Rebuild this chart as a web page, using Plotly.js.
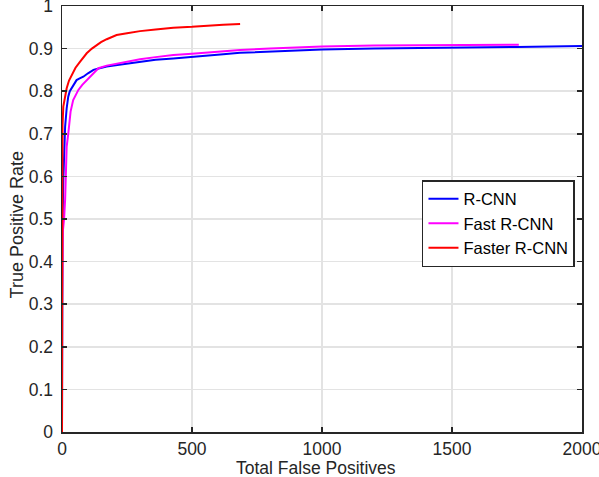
<!DOCTYPE html>
<html><head><meta charset="utf-8">
<script src="https://cdn.plot.ly/plotly-3.0.1.min.js"></script>
<style>body{margin:0;padding:0;background:#fff}#chart{width:599px;height:477px}</style>
</head><body><div id="chart"></div>
<script>
const seriesNames = ["R-CNN", "Fast R-CNN", "Faster R-CNN"];
const seriesColors = ["#0000ff", "#ff00ff", "#ff0000"];
const xTitle = "Total False Positives";
const yTitle = "True Positive Rate";

const rcnnX = [0, 0, 2, 5, 8, 12, 18, 24, 30, 37, 45, 56, 68, 82, 100, 121, 145, 172, 220, 300, 360, 428, 500, 557, 620, 685, 800, 1000, 1200, 1500, 1750, 2000];
const rcnnY = [0, 0.3, 0.5, 0.59, 0.66, 0.717, 0.76, 0.787, 0.8, 0.807, 0.815, 0.826, 0.83, 0.834, 0.842, 0.85, 0.854, 0.858, 0.862, 0.869, 0.874, 0.877, 0.881, 0.885, 0.887, 0.89, 0.893, 0.898, 0.9, 0.903, 0.904, 0.906];

const fastX = [0, 0, 3, 8, 12, 18, 24, 28, 33, 43, 52, 63, 78, 95, 115, 140, 172, 220, 300, 360, 428, 500, 557, 620, 685, 800, 1000, 1200, 1500, 1757];
const fastY = [0, 0.3, 0.47, 0.5, 0.545, 0.67, 0.70, 0.72, 0.752, 0.779, 0.79, 0.803, 0.815, 0.826, 0.84, 0.854, 0.86, 0.866, 0.875, 0.88, 0.885, 0.888, 0.891, 0.894, 0.897, 0.9, 0.905, 0.907, 0.909, 0.909];

const fasterX = [0, 0, 2, 5, 10, 18, 27, 37, 52, 69, 82, 95, 115, 133, 150, 172, 190, 210, 250, 300, 360, 428, 500, 557, 620, 685];
const fasterY = [0, 0.4, 0.72, 0.764, 0.785, 0.807, 0.825, 0.838, 0.855, 0.869, 0.878, 0.889, 0.9, 0.908, 0.915, 0.922, 0.927, 0.932, 0.936, 0.941, 0.945, 0.949, 0.951, 0.954, 0.956, 0.958];

const xs = [rcnnX, fastX, fasterX];
const ys = [rcnnY, fastY, fasterY];

const traces = seriesNames.map((n, i) => ({
  x: xs[i], y: ys[i], name: n, type: "scatter", mode: "lines",
  line: {color: seriesColors[i], width: 2}
}));

const FONT = "Liberation Sans, Arial, sans-serif";
const axisCommon = {
  showline: true, linecolor: "#262626", linewidth: 1.5, mirror: "ticks",
  ticks: "inside", ticklen: 5, tickwidth: 1.5, tickcolor: "#262626",
  showgrid: true, gridcolor: "#e3e3e3", gridwidth: 1.5, zeroline: false,
  ticklabeloverflow: "allow", automargin: false,
  tickfont: {family: FONT, size: 17.5, color: "#262626"}
};

const layout = {
  width: 599, height: 477,
  margin: {l: 62, r: 17, t: 6, b: 45},
  paper_bgcolor: "#fff", plot_bgcolor: "#fff",
  showlegend: true,
  xaxis: Object.assign({}, axisCommon, {
    range: [0, 2000], dtick: 500, tick0: 0, ticklabelstandoff: 0
  }),
  yaxis: Object.assign({}, axisCommon, {
    range: [0, 1], dtick: 0.1, tick0: 0, ticklabelstandoff: 4
  }),
  annotations: [
    {text: xTitle, xref: "paper", yref: "paper", x: 0.488, y: 0, yshift: -35.5,
     xanchor: "center", yanchor: "middle", showarrow: false,
     font: {family: FONT, size: 17.5, color: "#262626"}},
    {text: yTitle, xref: "paper", yref: "paper", x: 0, y: 0.485, xshift: -45,
     xanchor: "center", yanchor: "middle", showarrow: false, textangle: -90,
     font: {family: FONT, size: 18, color: "#262626"}}
  ],
  legend: {
    x: 0.9865, y: 0.5915, xanchor: "right", yanchor: "top",
    bgcolor: "#fff", bordercolor: "#262626", borderwidth: 1.5,
    font: {family: FONT, size: 16.5, color: "#000"},
    tracegroupgap: 0, itemwidth: 30
  }
};

Plotly.newPlot("chart", traces, layout, {displayModeBar: false, staticPlot: true});
</script>
</body></html>
